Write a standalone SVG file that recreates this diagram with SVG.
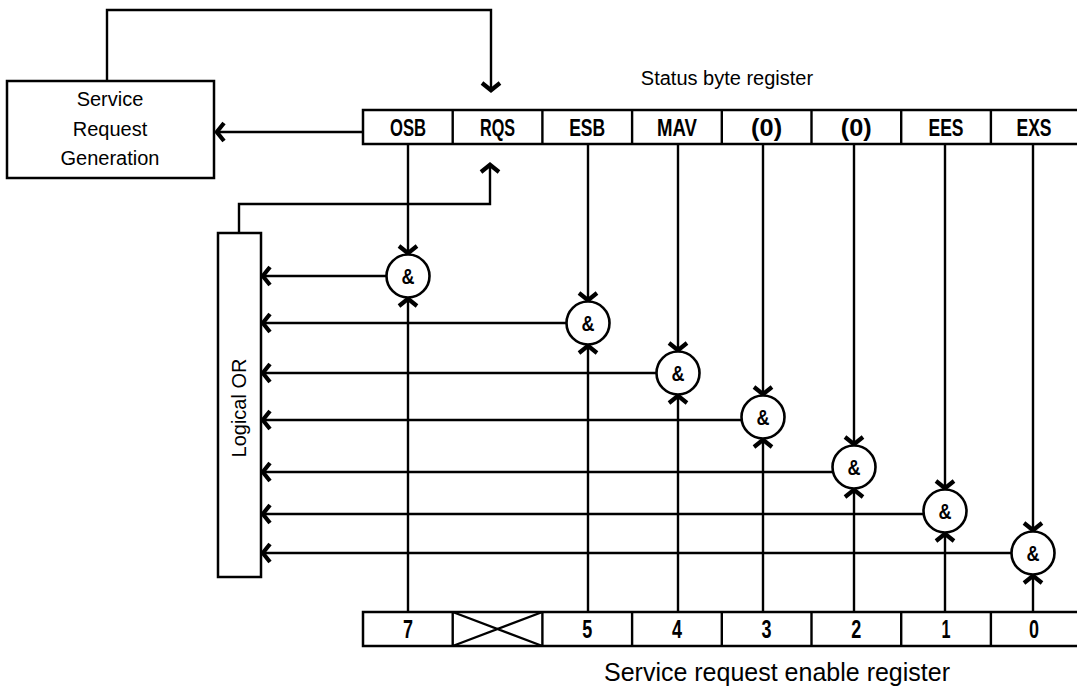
<svg xmlns="http://www.w3.org/2000/svg" width="1077" height="689" viewBox="0 0 1077 689">
<defs>
<style>
.box{fill:#fff;stroke:#000;stroke-width:2.5}
.ln{fill:none;stroke:#000;stroke-width:2.4}
.gate{fill:#fff;stroke:#000;stroke-width:2.6}
.t{font-family:"Liberation Sans",Arial,sans-serif;fill:#000;text-anchor:middle}
.cell{font-family:"Liberation Sans",Arial,sans-serif;font-size:23px;font-weight:bold;fill:#000;text-anchor:middle}
.dig{font-family:"Liberation Sans",Arial,sans-serif;font-size:25px;font-weight:bold;fill:#000;text-anchor:middle}
.amp{font-family:"Liberation Sans",Arial,sans-serif;font-size:22px;font-weight:bold;fill:#000;text-anchor:middle}
</style>
<marker id="arr" viewBox="-12 -12 24 24" refX="0" refY="0" markerWidth="24" markerHeight="24" markerUnits="userSpaceOnUse" orient="auto">
<path d="M-8,-9 L-0.8,0 L-8,9" fill="none" stroke="#000" stroke-width="4.2" stroke-linejoin="miter"/>
</marker>
</defs>

<g id="srg">
<rect class="box" x="7" y="81" width="207" height="97"/>
<text class="t" x="110" y="106" font-size="20">Service</text>
<text class="t" x="110" y="136" font-size="20">Request</text>
<text class="t" x="110" y="165" font-size="20">Generation</text>
</g>

<g id="status-register">
<text class="t" x="727" y="85" font-size="20">Status byte register</text>
<rect class="box" x="363" y="110" width="720" height="34"/>
<path class="ln" d="M452.7,110V144M542.4,110V144M632.1,110V144M721.8,110V144M811.5,110V144M901.2,110V144M990.9,110V144" stroke-width="2.5"/>
<text class="cell" x="408" y="135.5" textLength="36" lengthAdjust="spacingAndGlyphs">OSB</text>
<text class="cell" x="497.5" y="135.5" textLength="35" lengthAdjust="spacingAndGlyphs">RQS</text>
<text class="cell" x="587.2" y="135.5" textLength="36" lengthAdjust="spacingAndGlyphs">ESB</text>
<text class="cell" x="677" y="135.5" textLength="40" lengthAdjust="spacingAndGlyphs">MAV</text>
<text class="cell" x="766.6" y="135.5" textLength="31" lengthAdjust="spacingAndGlyphs">(0)</text>
<text class="cell" x="856.3" y="135.5" textLength="31" lengthAdjust="spacingAndGlyphs">(0)</text>
<text class="cell" x="946" y="135.5" textLength="35" lengthAdjust="spacingAndGlyphs">EES</text>
<text class="cell" x="1034" y="135.5" textLength="35" lengthAdjust="spacingAndGlyphs">EXS</text>
</g>

<g id="enable-register">
<rect class="box" x="363" y="612" width="720" height="34"/>
<path class="ln" d="M452.7,612V646M542.4,612V646M632.1,612V646M721.8,612V646M811.5,612V646M901.2,612V646M990.9,612V646" stroke-width="2.5"/>
<path class="ln" d="M452.7,612L542.4,646M452.7,646L542.4,612" stroke-width="2"/>
<text class="dig" x="408" y="637.5" textLength="10" lengthAdjust="spacingAndGlyphs">7</text>
<text class="dig" x="587.2" y="637.5" textLength="10" lengthAdjust="spacingAndGlyphs">5</text>
<text class="dig" x="677" y="637.5" textLength="10" lengthAdjust="spacingAndGlyphs">4</text>
<text class="dig" x="766.6" y="637.5" textLength="10" lengthAdjust="spacingAndGlyphs">3</text>
<text class="dig" x="856.3" y="637.5" textLength="10" lengthAdjust="spacingAndGlyphs">2</text>
<text class="dig" x="946" y="637.5" textLength="9" lengthAdjust="spacingAndGlyphs">1</text>
<text class="dig" x="1034" y="637.5" textLength="10" lengthAdjust="spacingAndGlyphs">0</text>
<text class="t" x="777" y="681" font-size="25">Service request enable register</text>
</g>

<g id="logical-or">
<rect class="box" x="218" y="233" width="43" height="344"/>
<text class="t" font-size="20" transform="translate(246,408) rotate(-90)">Logical OR</text>
</g>

<g id="connectors">
<path class="ln" d="M107,81V10H491V91" marker-end="url(#arr)"/>
<path class="ln" d="M363,132H216" marker-end="url(#arr)"/>
<path class="ln" d="M239,233V204H490V164" marker-end="url(#arr)"/>

<path class="ln" d="M408,144V254" marker-end="url(#arr)"/>
<path class="ln" d="M588,144V301" marker-end="url(#arr)"/>
<path class="ln" d="M678,144V351" marker-end="url(#arr)"/>
<path class="ln" d="M763,144V395" marker-end="url(#arr)"/>
<path class="ln" d="M854,144V445" marker-end="url(#arr)"/>
<path class="ln" d="M945,144V489" marker-end="url(#arr)"/>
<path class="ln" d="M1033,144V531" marker-end="url(#arr)"/>

<path class="ln" d="M408,612V298" marker-end="url(#arr)"/>
<path class="ln" d="M588,612V345" marker-end="url(#arr)"/>
<path class="ln" d="M678,612V395" marker-end="url(#arr)"/>
<path class="ln" d="M763,612V439" marker-end="url(#arr)"/>
<path class="ln" d="M854,612V489" marker-end="url(#arr)"/>
<path class="ln" d="M945,612V533" marker-end="url(#arr)"/>
<path class="ln" d="M1033,612V575" marker-end="url(#arr)"/>

<path class="ln" d="M386,276H262" marker-end="url(#arr)"/>
<path class="ln" d="M566,323H262" marker-end="url(#arr)"/>
<path class="ln" d="M656,373H262" marker-end="url(#arr)"/>
<path class="ln" d="M742,420H262" marker-end="url(#arr)"/>
<path class="ln" d="M833,472H262" marker-end="url(#arr)"/>
<path class="ln" d="M924,514H262" marker-end="url(#arr)"/>
<path class="ln" d="M1011,553H262" marker-end="url(#arr)"/>
</g>

<g id="gate-osb"><circle class="gate" cx="408" cy="276" r="21.5"/><text class="amp" x="408" y="284" textLength="13" lengthAdjust="spacingAndGlyphs">&amp;</text></g>
<g id="gate-esb"><circle class="gate" cx="588" cy="323" r="21.5"/><text class="amp" x="588" y="331" textLength="13" lengthAdjust="spacingAndGlyphs">&amp;</text></g>
<g id="gate-mav"><circle class="gate" cx="678" cy="373" r="21.5"/><text class="amp" x="678" y="381" textLength="13" lengthAdjust="spacingAndGlyphs">&amp;</text></g>
<g id="gate-bit3"><circle class="gate" cx="763" cy="417" r="21.5"/><text class="amp" x="763" y="425" textLength="13" lengthAdjust="spacingAndGlyphs">&amp;</text></g>
<g id="gate-bit2"><circle class="gate" cx="854" cy="467" r="21.5"/><text class="amp" x="854" y="475" textLength="13" lengthAdjust="spacingAndGlyphs">&amp;</text></g>
<g id="gate-ees"><circle class="gate" cx="945" cy="511" r="21.5"/><text class="amp" x="945" y="519" textLength="13" lengthAdjust="spacingAndGlyphs">&amp;</text></g>
<g id="gate-exs"><circle class="gate" cx="1033" cy="553" r="21.5"/><text class="amp" x="1033" y="561" textLength="13" lengthAdjust="spacingAndGlyphs">&amp;</text></g>
</svg>
